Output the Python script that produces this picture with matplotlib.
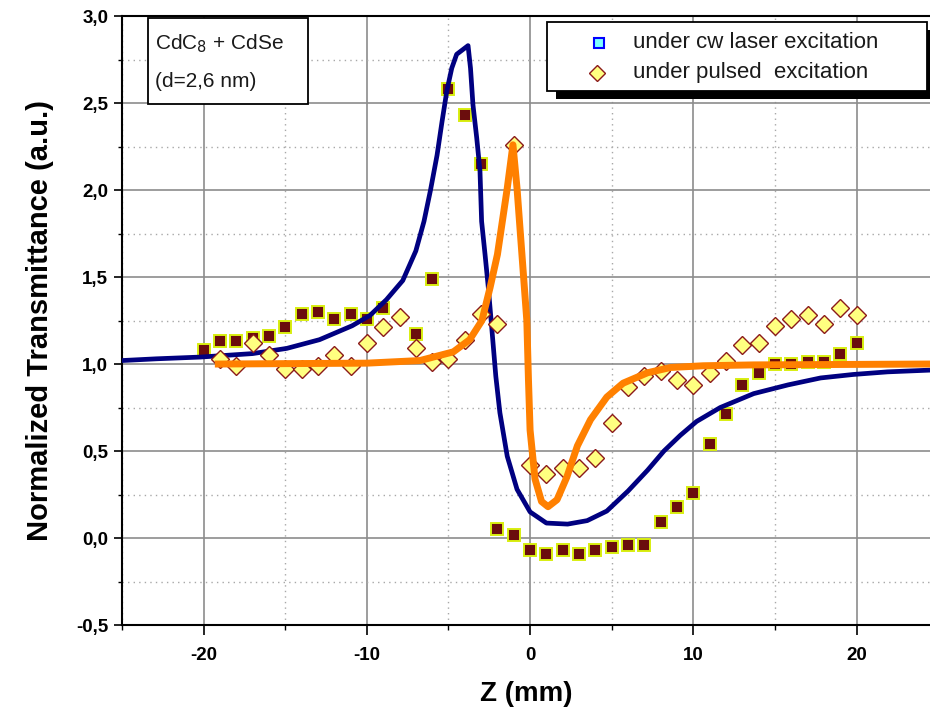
import numpy as np
import matplotlib.pyplot as plt
from matplotlib.patches import Rectangle
from matplotlib.ticker import MultipleLocator, FuncFormatter

plt.rcParams['font.family'] = ['Liberation Sans', 'DejaVu Sans']
plt.rcParams['axes.unicode_minus'] = False

# measured transmittance, cw laser
z_cw = [-20, -19, -18, -17, -16, -15, -14, -13, -12, -11, -10, -9, -7, -6, -5, -4, -3,
        -2, -1, 0, 1, 2, 3, 4, 5, 6, 7, 8, 9, 10, 11, 12, 13, 14, 15, 16, 17, 18, 19, 20]
t_cw = [1.08, 1.13, 1.13, 1.15, 1.16, 1.21, 1.29, 1.30, 1.26, 1.29, 1.26, 1.32, 1.17, 1.49,
        2.58, 2.43, 2.15, 0.05, 0.02, -0.07, -0.09, -0.07, -0.09, -0.07, -0.05, -0.04, -0.04,
        0.09, 0.18, 0.26, 0.54, 0.71, 0.88, 0.95, 1.00, 1.00, 1.01, 1.01, 1.06, 1.12]

# measured transmittance, pulsed
z_pulsed = [-19, -18, -17, -16, -15, -14, -13, -12, -11, -10, -9, -8, -7, -6, -5, -4, -3, -2,
            -1, 0, 1, 2, 3, 4, 5, 6, 7, 8, 9, 10, 11, 12, 13, 14, 15, 16, 17, 18, 19, 20]
t_pulsed = [1.03, 0.99, 1.12, 1.05, 0.97, 0.97, 0.99, 1.05, 0.99, 1.12, 1.21, 1.27, 1.09, 1.01,
            1.03, 1.14, 1.29, 1.23, 2.26, 0.42, 0.37, 0.40, 0.40, 0.46, 0.66, 0.87, 0.93, 0.96,
            0.91, 0.88, 0.95, 1.02, 1.11, 1.12, 1.22, 1.26, 1.28, 1.23, 1.32, 1.28]

# fit curves
z_fit_cw = [-25, -22.9, -20.2, -17, -14.9, -12.9, -10.9, -9.8, -8.8, -7.8, -7.0, -6.5, -6.1,
            -5.7, -5.4, -5.1, -4.8, -4.5, -3.8, -3.65, -3.5, -3.27, -3.07, -2.97, -2.76,
            -2.56, -2.35, -2.1, -1.85, -1.4, -0.8, 0, 1.0, 2.3, 3.5, 4.7, 6.0, 7.2, 8.2, 9.2,
            10.2, 11.65, 13.7, 15.8, 17.8, 19.8, 21.9, 24.5]
t_fit_cw = [1.02, 1.03, 1.04, 1.06, 1.09, 1.14, 1.22, 1.28, 1.37, 1.48, 1.65, 1.82, 2.00,
            2.20, 2.39, 2.57, 2.70, 2.78, 2.83, 2.70, 2.49, 2.30, 2.11, 1.82, 1.63,
            1.44, 1.21, 0.93, 0.72, 0.47, 0.28, 0.15, 0.086, 0.08, 0.10, 0.155, 0.27, 0.39,
            0.50, 0.59, 0.67, 0.75, 0.83, 0.88, 0.92, 0.94, 0.955, 0.965]

z_fit_pulsed = [-19.1, -10, -6.75, -4.7, -3.7, -2.95, -2.45, -2.0, -1.7, -1.4, -1.05, -0.8,
                -0.5, -0.2, -0.1, 0, 0.3, 0.7, 1.1, 1.65, 2.25, 2.9, 3.7, 4.7, 5.7, 7.2, 8.6,
                10.6, 13.7, 24.5]
t_fit_pulsed = [1.0, 1.005, 1.02, 1.07, 1.14, 1.25, 1.44, 1.63, 1.82, 2.01, 2.26, 2.01,
                1.63, 1.25, 0.91, 0.62, 0.34, 0.21, 0.18, 0.22, 0.35, 0.53, 0.68, 0.81, 0.89,
                0.95, 0.98, 0.99, 0.995, 1.0]

fig = plt.figure(figsize=(9.3, 7.13), dpi=100)
ax = fig.add_axes([0.1312, 0.1234, 0.8688, 0.8541])

ax.plot(z_cw, t_cw, 's', ms=8.5, mfc='#6b0d0d', mec='#d8ee10', mew=1.4, zorder=3)
ax.plot(z_fit_cw, t_fit_cw, '-', color='#000080', lw=3.4, zorder=4)
ax.plot(z_pulsed, t_pulsed, 'D', ms=9, mfc='#ffff80', mec='#8b1a1a', mew=1.0, zorder=5)
ax.plot(z_fit_pulsed, t_fit_pulsed, '-', color='#ff8000', lw=5, zorder=6)

ax.set_xlim(-25, 24.5)
ax.set_ylim(-0.5, 3.0)
ax.xaxis.set_major_locator(MultipleLocator(10))
ax.xaxis.set_minor_locator(MultipleLocator(5))
ax.yaxis.set_major_locator(MultipleLocator(0.5))
ax.yaxis.set_minor_locator(MultipleLocator(0.25))
ax.yaxis.set_major_formatter(FuncFormatter(lambda v, p: f"{v:.1f}".replace('.', ',')))

ax.grid(which='major', color='#8c8c8c', lw=1.2, ls='-', zorder=0)
ax.grid(which='minor', color='#a8a8a8', lw=1.0, ls=(0, (1, 3)), zorder=0)
ax.set_axisbelow(True)

for s in ['left', 'bottom', 'top']:
    ax.spines[s].set_linewidth(1.5)
    ax.spines[s].set_color('black')
ax.spines['right'].set_visible(False)

ax.tick_params(axis='x', which='major', direction='out', length=7, width=1.2, pad=9,
               labelsize=13.5, top=False)
ax.tick_params(axis='x', which='minor', direction='out', length=3.5, width=1.0, top=False)
ax.tick_params(axis='y', which='major', direction='out', length=6, width=1.2, pad=4,
               labelsize=13.5, right=False)
ax.tick_params(axis='y', which='minor', direction='out', length=3, width=1.0, right=False)
for lab in ax.get_xticklabels() + ax.get_yticklabels():
    lab.set_fontweight('bold')

ax.set_xlabel('Z (mm)', fontsize=20, fontweight='bold', labelpad=12)
ax.set_ylabel('Normalized Transmittance (a.u.)', fontsize=21, fontweight='bold', labelpad=16)

# sample label box
ax.add_patch(Rectangle((0.032, 0.855), 0.198, 0.142, transform=ax.transAxes,
                       fill=True, fc='white', ec='black', lw=1.3, zorder=10, clip_on=False))
ax.text(0.041, 0.955, 'CdC$_8$ + CdSe', transform=ax.transAxes, fontsize=15,
        color='#1a1a1a', va='center', ha='left', zorder=11)
ax.text(0.041, 0.893, '(d=2,6 nm)', transform=ax.transAxes, fontsize=15,
        color='#1a1a1a', va='center', ha='left', zorder=11)

# legend with black drop shadow
ax.add_patch(Rectangle((0.537, 0.864), 0.48, 0.113, transform=ax.transAxes,
                       fc='black', ec='black', lw=0, zorder=10, clip_on=False))
ax.add_patch(Rectangle((0.526, 0.877), 0.47, 0.113, transform=ax.transAxes,
                       fc='white', ec='black', lw=1.3, zorder=11, clip_on=False))
ax.plot([0.590], [0.956], 's', ms=7.5, mfc='#80ffff', mec='#0000ff', mew=1.5,
        transform=ax.transAxes, clip_on=False, zorder=12)
ax.plot([0.588], [0.907], 'D', ms=8.5, mfc='#ffff80', mec='#8b1a1a', mew=1.0,
        transform=ax.transAxes, clip_on=False, zorder=12)
ax.text(0.632, 0.956, 'under cw laser excitation', transform=ax.transAxes, fontsize=16,
        color='#1a1a1a', va='center', ha='left', zorder=12)
ax.text(0.632, 0.907, 'under pulsed  excitation', transform=ax.transAxes, fontsize=16,
        color='#1a1a1a', va='center', ha='left', zorder=12)

fig.savefig('out.png', dpi=100)
